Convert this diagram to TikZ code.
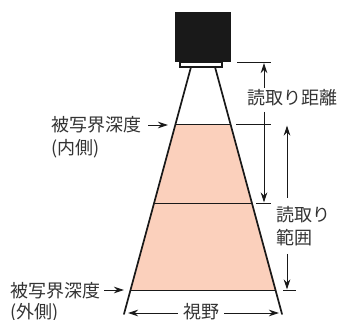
\documentclass[tikz,border=0pt]{standalone}
\usepackage{fontspec}
\setmainfont{Noto Sans CJK JP}
\usetikzlibrary{arrows.meta}
\definecolor{fieldpink}{HTML}{FBD0BC}
\definecolor{labelgray}{HTML}{333333}
\begin{document}
\begin{tikzpicture}[x=1pt,y=-1pt,
    cone/.style={line width=1.7pt, line cap=round, color=black!90},
    thin/.style={line width=0.9pt, color=black!90},
    dim/.style={line width=0.9pt, color=black!90, -{Stealth[length=10pt,width=6.5pt]}},
    lbl/.style={anchor=west, inner sep=0pt, text height=15pt, text depth=1pt, text=labelgray, font=\fontsize{18}{20}\selectfont}]
  \useasboundingbox (0,0) rectangle (340,320);

  % field of view
  \fill [fieldpink] (175,125) -- (231,125) -- (276.5,290) -- (130,290) -- cycle;

  % camera
  \fill [black!90] (175,12) rectangle (231,62);
  \draw [color=black!90, fill=white, line width=1.3pt] (180,62) rectangle (222,67);
  \coordinate (lensl) at (191,67);
  \coordinate (lensr) at (215,67);
  \coordinate (footl) at (124,314);
  \coordinate (footr) at (282,314);
  \draw [cone] (lensl) -- (footl);
  \draw [cone] (lensr) -- (footr);

  % levels
  \coordinate (innerl) at (175,124.5);
  \coordinate (innerr) at (231,124.5);
  \coordinate (midl) at (153,203);
  \coordinate (midr) at (252,203);
  \coordinate (outerl) at (130,290);
  \coordinate (outerr) at (276,290);
  \draw [thin] (innerl) -- (innerr);
  \draw [thin] (midl) -- (midr);
  \draw [thin] (outerl) -- (outerr);

  % ticks
  \coordinate (ticka) at (237,62);
  \coordinate (tickb) at (271,62);
  \coordinate (tickc) at (236,124.5);
  \coordinate (tickd) at (271,124.5);
  \coordinate (ticke) at (256,203);
  \coordinate (tickf) at (271,203);
  \coordinate (tickg) at (283,290);
  \coordinate (tickh) at (296,290);
  \draw [thin] (ticka) -- (tickb);
  \draw [thin] (tickc) -- (tickd);
  \draw [thin] (ticke) -- (tickf);
  \draw [thin] (tickg) -- (tickh);

  % labels
  \node [lbl] (distance) at (247,98) {読取り距離};
  \node [lbl] (rangea) at (276,215) {読取り};
  \node [lbl] (rangeb) at (276,238) {範囲};
  \node [lbl] (innerdof) at (51,125) {被写界深度};
  \node [lbl] (innerside) at (51,148) {(内側)};
  \node [lbl] (outerdof) at (10,291) {被写界深度};
  \node [lbl] (outerside) at (10,312) {(外側)};
  \node [lbl, anchor=center] (view) at (201,312) {視野};

  % dimension arrows
  \coordinate (distup) at (264,63);
  \coordinate (distupfrom) at (264,88);
  \coordinate (distlow) at (264,202.5);
  \coordinate (distlowfrom) at (264,112);
  \coordinate (rangeup) at (287,125.5);
  \coordinate (rangeupfrom) at (287,198);
  \coordinate (rangelow) at (287,289.5);
  \coordinate (rangelowfrom) at (287,254);
  \draw [dim] (distupfrom) -- (distup);
  \draw [dim] (distlowfrom) -- (distlow);
  \draw [dim] (rangeupfrom) -- (rangeup);
  \draw [dim] (rangelowfrom) -- (rangelow);
  \coordinate (viewl) at (128,313);
  \coordinate (viewr) at (279,313);
  \draw [dim] (view.west) ++(-5,1) -- (viewl);
  \draw [dim] (view.east) ++(5,1) -- (viewr);
  \coordinate (innertip) at (168,125);
  \coordinate (outertip) at (124,290);
  \draw [dim] (innerdof.east) ++(7,0) -- (innertip);
  \draw [dim] (outerdof.east) ++(4,-1) -- (outertip);
\end{tikzpicture}
\end{document}
